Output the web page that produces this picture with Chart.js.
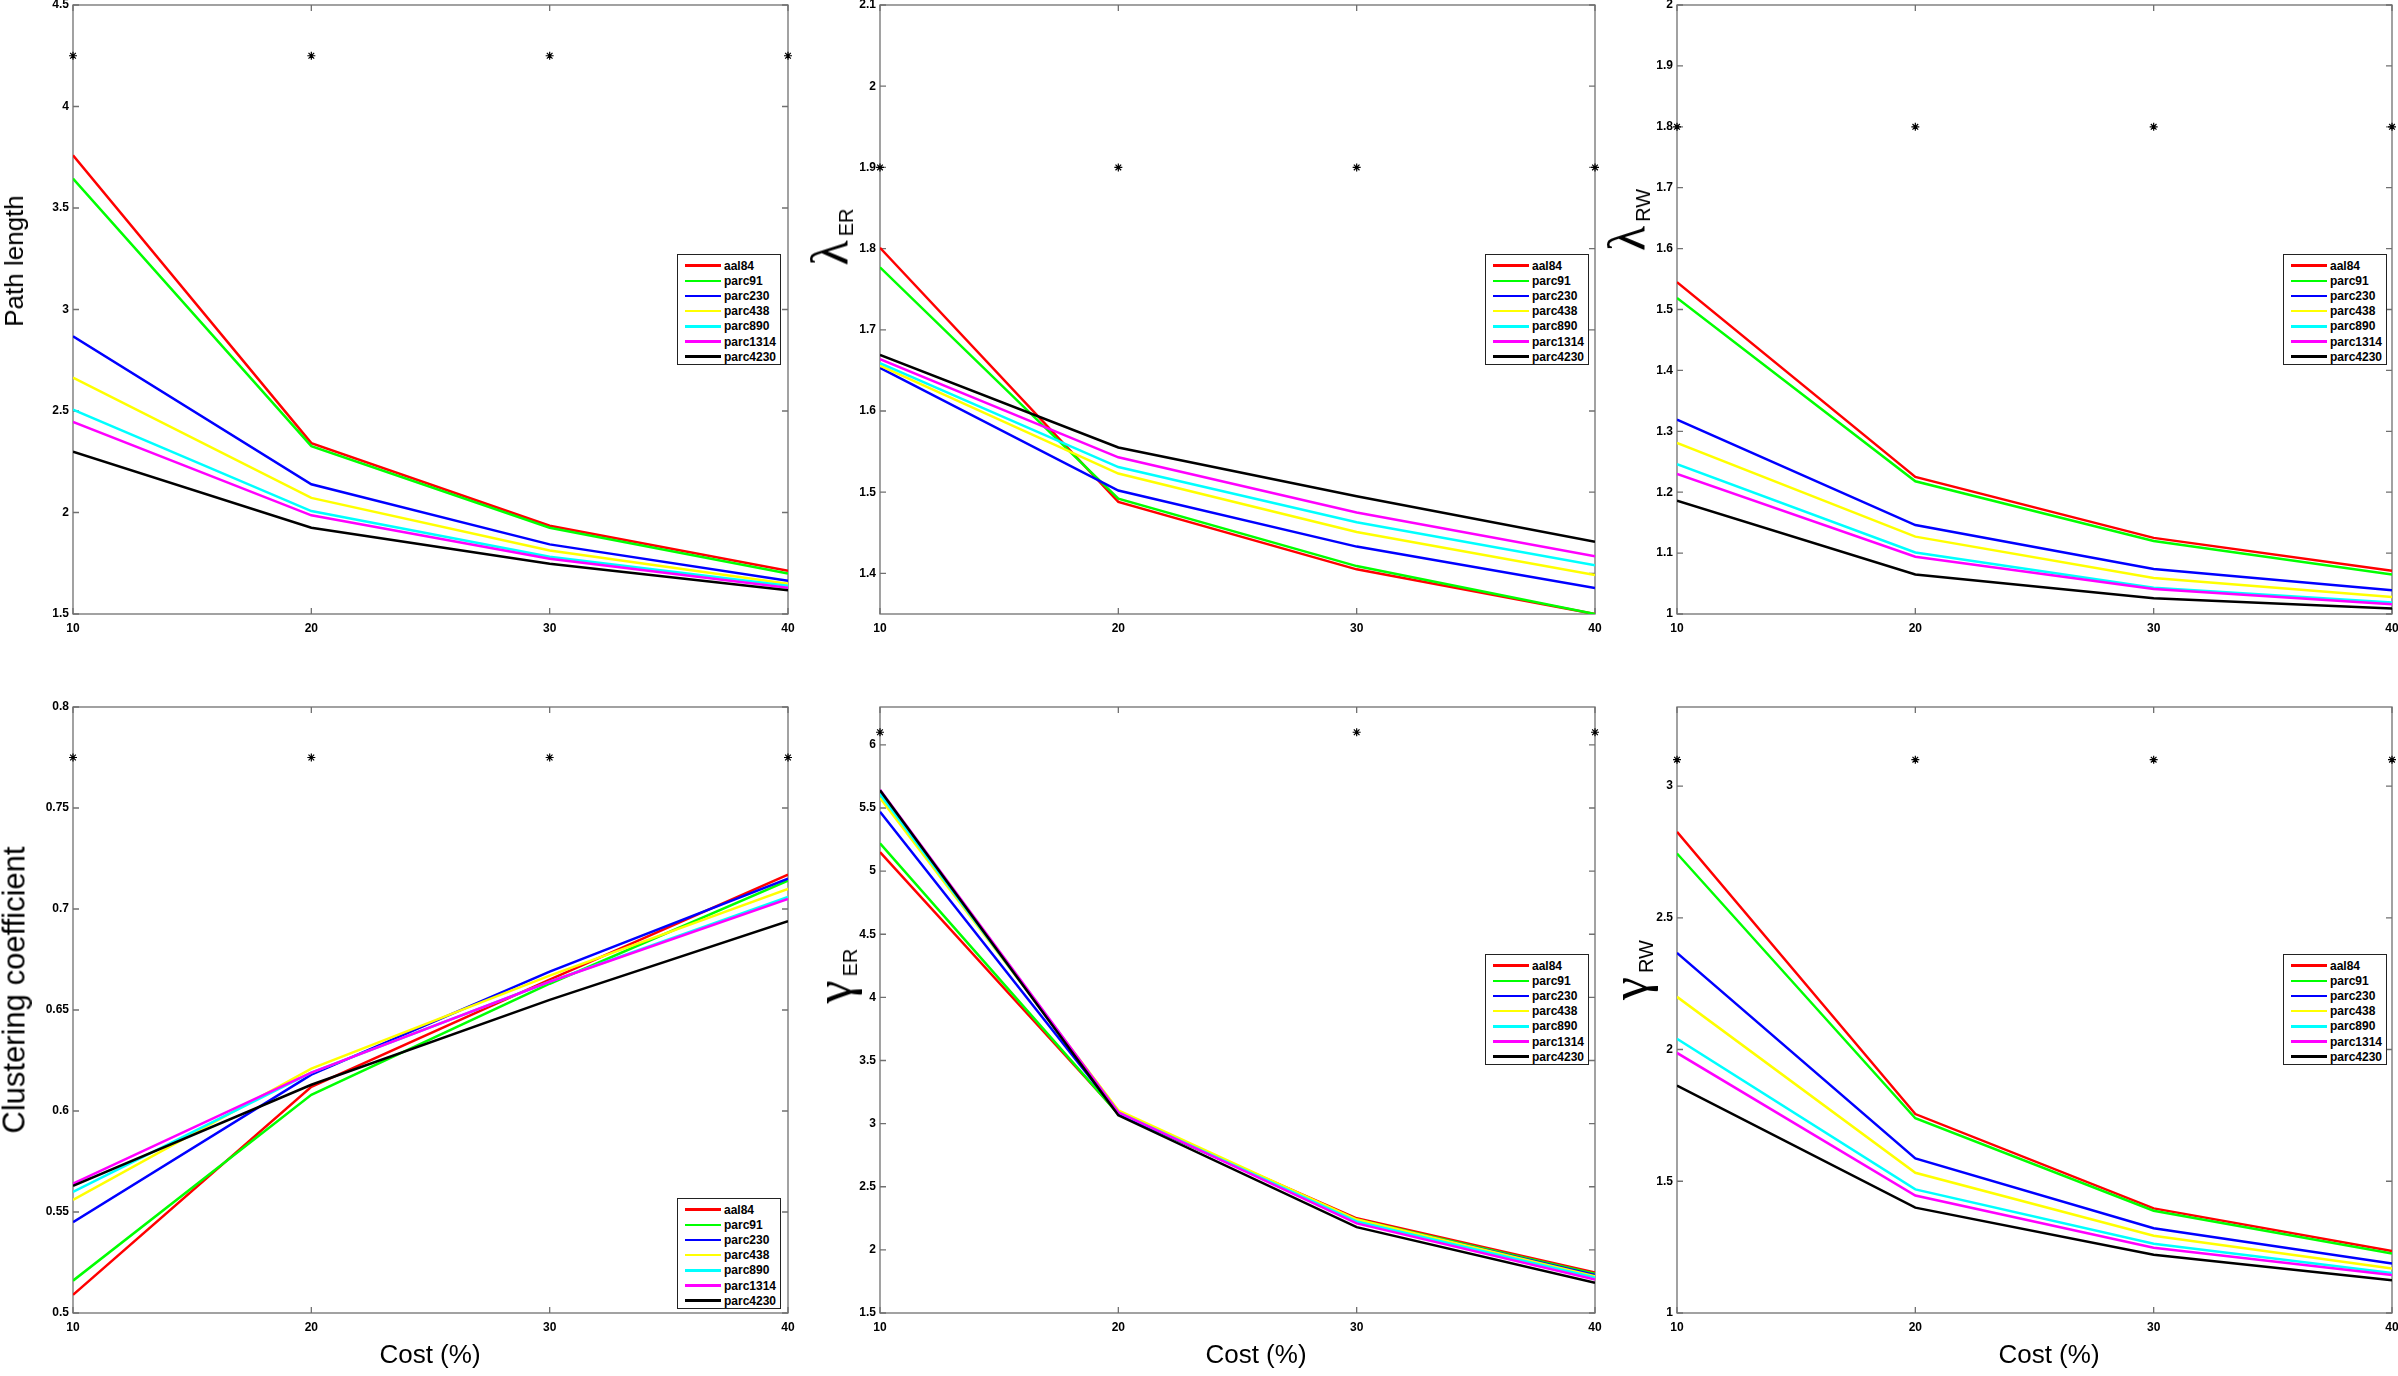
<!DOCTYPE html>
<html>
<head>
<meta charset="utf-8">
<script src="https://cdn.jsdelivr.net/npm/chart.js@4.4.1/dist/chart.umd.min.js"></script>
<style>
  html, body { margin: 0; padding: 0; background: #fff; overflow: hidden; }
  body { width: 2398px; height: 1376px; position: relative; font-family: Arial, "Liberation Sans", Helvetica, sans-serif; }
  .panel { position: absolute; }
  .ylab { position: absolute; transform: translate(-50%, -50%) rotate(-90deg); white-space: nowrap; line-height: 1; color: #000; }
  .word { font-size: 26px; }
  .greek { font-family: "Liberation Serif", "DejaVu Serif", serif; font-size: 52px; }
  .greek .sub { font-family: Arial, "Liberation Sans", sans-serif; font-size: 20px; vertical-align: -6px; margin-left: 4px; }
  .xlab { position: absolute; transform: translate(-50%, -50%); font-size: 26px; white-space: nowrap; }
  .legend { position: absolute; box-sizing: border-box; border: 1px solid #222; background: #fff; padding-top: 3px; }
  .legend .row { height: 15.2px; display: flex; align-items: center; font-size: 12px; font-weight: bold; }
  .legend .swatch { width: 36px; height: 2.5px; margin-left: 7px; margin-right: 3px; }
</style>
</head>
<body>

<script>
const costs = [10, 20, 30, 40];
const series = ["aal84", "parc91", "parc230", "parc438", "parc890", "parc1314", "parc4230"];
const colors = ["#ff0000", "#00ff00", "#0000ff", "#ffff00", "#00ffff", "#ff00ff", "#000000"];

// one row per parcellation, values at 10/20/30/40 % cost
const pathLength = [
    [3.76, 2.342, 1.935, 1.713],
    [3.645, 2.327, 1.925, 1.700],
    [2.868, 2.139, 1.843, 1.664],
    [2.664, 2.072, 1.813, 1.649],
    [2.507, 2.007, 1.782, 1.639],
    [2.446, 1.986, 1.772, 1.629],
    [2.299, 1.925, 1.747, 1.617]
];
const lambdaER = [
    [1.801, 1.488, 1.405, 1.350],
    [1.777, 1.492, 1.409, 1.350],
    [1.653, 1.502, 1.433, 1.382],
    [1.656, 1.523, 1.451, 1.398],
    [1.659, 1.531, 1.463, 1.410],
    [1.664, 1.543, 1.475, 1.421],
    [1.669, 1.555, 1.495, 1.439]
];
const lambdaRW = [
    [1.545, 1.225, 1.125, 1.071],
    [1.519, 1.218, 1.120, 1.065],
    [1.319, 1.146, 1.074, 1.039],
    [1.281, 1.127, 1.059, 1.028],
    [1.246, 1.101, 1.043, 1.019],
    [1.230, 1.094, 1.041, 1.016],
    [1.186, 1.065, 1.026, 1.009]
];
const clustering = [
    [0.509, 0.612, 0.665, 0.717],
    [0.516, 0.608, 0.663, 0.714],
    [0.545, 0.618, 0.669, 0.715],
    [0.556, 0.621, 0.667, 0.710],
    [0.560, 0.619, 0.664, 0.706],
    [0.564, 0.619, 0.664, 0.705],
    [0.563, 0.613, 0.655, 0.694]
];
const gammaER = [
    [5.15, 3.08, 2.25, 1.82],
    [5.22, 3.075, 2.24, 1.81],
    [5.47, 3.08, 2.235, 1.80],
    [5.58, 3.105, 2.24, 1.79],
    [5.61, 3.09, 2.225, 1.78],
    [5.645, 3.09, 2.21, 1.765],
    [5.64, 3.066, 2.18, 1.74]
];
const gammaRW = [
    [2.826, 1.755, 1.397, 1.235],
    [2.744, 1.739, 1.388, 1.226],
    [2.367, 1.587, 1.322, 1.188],
    [2.200, 1.532, 1.293, 1.169],
    [2.041, 1.469, 1.263, 1.152],
    [1.987, 1.446, 1.248, 1.144],
    [1.863, 1.400, 1.221, 1.124]
];

// significance stars
const starCosts = [10, 20, 30, 40];
const starCostsGammaER = [10, 30, 40];
const starLevels = [4.25, 1.9, 1.8, 0.775, 6.1, 3.1];

const xTicks = [10, 20, 30, 40];
const ticksPath = [1.5, 2, 2.5, 3, 3.5, 4, 4.5];
const ticksLambdaER = [1.4, 1.5, 1.6, 1.7, 1.8, 1.9, 2, 2.1];
const ticksLambdaRW = [1, 1.1, 1.2, 1.3, 1.4, 1.5, 1.6, 1.7, 1.8, 1.9, 2];
const ticksClust = [0.5, 0.55, 0.6, 0.65, 0.7, 0.75, 0.8];
const ticksGammaER = [1.5, 2, 2.5, 3, 3.5, 4, 4.5, 5, 5.5, 6];
const ticksGammaRW = [1, 1.5, 2, 2.5, 3];

const panels = [
    { data: pathLength, stars: starCosts, star: starLevels[0], min: 1.5, max: 4.5, ticks: ticksPath, box: [73, 5, 715, 609], legend: [677, 254] },
    { data: lambdaER, stars: starCosts, star: starLevels[1], min: 1.35, max: 2.1, ticks: ticksLambdaER, box: [880, 5, 715, 609], legend: [1485, 254] },
    { data: lambdaRW, stars: starCosts, star: starLevels[2], min: 1, max: 2, ticks: ticksLambdaRW, box: [1677, 5, 715, 609], legend: [2283, 254] },
    { data: clustering, stars: starCosts, star: starLevels[3], min: 0.5, max: 0.8, ticks: ticksClust, box: [73, 707, 715, 606], legend: [677, 1198] },
    { data: gammaER, stars: starCostsGammaER, star: starLevels[4], min: 1.5, max: 6.3, ticks: ticksGammaER, box: [880, 707, 715, 606], legend: [1485, 954] },
    { data: gammaRW, stars: starCosts, star: starLevels[5], min: 1, max: 3.3, ticks: ticksGammaRW, box: [1677, 707, 715, 606], legend: [2283, 954] }
];

const PAD_L = 50, PAD_T = 12, PAD_R = 14, PAD_B = 28;
const tickFont = { family: 'Arial, "Liberation Sans", Helvetica, sans-serif', size: 12, weight: "bold" };

// matlab-like box with inward tick marks on all four sides
const boxPlugin = {
    id: "matlabBox",
    beforeDatasetsDraw(chart) {
        const { ctx, chartArea: a, scales } = chart;
        ctx.save();
        ctx.strokeStyle = "#707070";
        ctx.lineWidth = 1.3;
        ctx.strokeRect(a.left, a.top, a.right - a.left, a.bottom - a.top);
        ctx.beginPath();
        scales.x.ticks.forEach(t => {
            const px = scales.x.getPixelForValue(t.value);
            ctx.moveTo(px, a.bottom); ctx.lineTo(px, a.bottom - 6);
            ctx.moveTo(px, a.top); ctx.lineTo(px, a.top + 6);
        });
        scales.y.ticks.forEach(t => {
            const py = scales.y.getPixelForValue(t.value);
            ctx.moveTo(a.left, py); ctx.lineTo(a.left + 6, py);
            ctx.moveTo(a.right, py); ctx.lineTo(a.right - 6, py);
        });
        ctx.stroke();
        ctx.restore();
    }
};

function makeLegend(pos) {
    const div = document.createElement("div");
    div.className = "legend";
    div.style.left = pos[0] + "px";
    div.style.top = pos[1] + "px";
    div.style.width = "104px";
    div.style.height = "111px";
    series.forEach((name, i) => {
        const row = document.createElement("div");
        row.className = "row";
        row.innerHTML = `<span class="swatch" style="background:${colors[i]}"></span><span>${name}</span>`;
        div.appendChild(row);
    });
    document.body.appendChild(div);
}

panels.forEach(p => {
    const [bx, by, bw, bh] = p.box;
    const wrap = document.createElement("div");
    wrap.className = "panel";
    const w = bw + PAD_L + PAD_R, h = bh + PAD_T + PAD_B;
    wrap.style.left = (bx - PAD_L) + "px";
    wrap.style.top = (by - PAD_T) + "px";
    wrap.style.width = w + "px";
    wrap.style.height = h + "px";
    const canvas = document.createElement("canvas");
    canvas.width = w;
    canvas.height = h;
    canvas.style.width = w + "px";
    canvas.style.height = h + "px";
    wrap.appendChild(canvas);
    document.body.appendChild(wrap);

    const datasets = series.map((name, i) => ({
        label: name,
        data: costs.map((c, k) => ({ x: c, y: p.data[i][k] })),
        borderColor: colors[i],
        borderWidth: 2.5,
        pointRadius: 0,
        tension: 0,
        fill: false,
        order: series.length - i
    }));
    datasets.push({
        label: "significant",
        data: p.stars.map(c => ({ x: c, y: p.star })),
        showLine: false,
        pointStyle: "star",
        pointRadius: 4,
        borderColor: "#000",
        backgroundColor: "#000",
        pointBorderWidth: 1.2,
        clip: false,
        order: 0
    });

    new Chart(canvas.getContext("2d"), {
        type: "line",
        data: { datasets },
        options: {
            responsive: false,
            animation: false,
            devicePixelRatio: 1,
            layout: { autoPadding: false, padding: { left: 0, top: PAD_T, right: PAD_R, bottom: 0 } },
            plugins: { legend: { display: false }, tooltip: { enabled: false } },
            scales: {
                x: {
                    type: "linear",
                    min: 10,
                    max: 40,
                    afterBuildTicks: s => { s.ticks = xTicks.map(v => ({ value: v })); },
                    afterFit: s => { s.height = PAD_B; },
                    grid: { display: false, drawTicks: false },
                    border: { display: false },
                    ticks: { font: tickFont, color: "#000", padding: 7, autoSkip: false, maxRotation: 0 }
                },
                y: {
                    min: p.min,
                    max: p.max,
                    afterBuildTicks: s => { s.ticks = p.ticks.map(v => ({ value: v })); },
                    afterFit: s => { s.width = PAD_L; },
                    grid: { display: false, drawTicks: false },
                    border: { display: false },
                    ticks: {
                        font: tickFont,
                        color: "#000",
                        padding: 4,
                        autoSkip: false,
                        callback: v => String(Math.round(v * 100) / 100)
                    }
                }
            }
        },
        plugins: [boxPlugin]
    });

    makeLegend(p.legend);
});
</script>

<div class="ylab word" style="left:14px; top:261px;">Path length</div>
<div class="ylab word" style="left:14px; top:990px; font-size:31px;">Clustering coefficient</div>
<div class="ylab greek" style="left:830px; top:237px;"><span>λ</span><span class="sub">ER</span></div>
<div class="ylab greek" style="left:1627px; top:220px;"><span>λ</span><span class="sub">RW</span></div>
<div class="ylab greek" style="left:834px; top:976px;"><span>γ</span><span class="sub">ER</span></div>
<div class="ylab greek" style="left:1630px; top:970px;"><span>γ</span><span class="sub">RW</span></div>
<div class="xlab" style="left:430px; top:1354px;">Cost (%)</div>
<div class="xlab" style="left:1256px; top:1354px;">Cost (%)</div>
<div class="xlab" style="left:2049px; top:1354px;">Cost (%)</div>
</body>
</html>
